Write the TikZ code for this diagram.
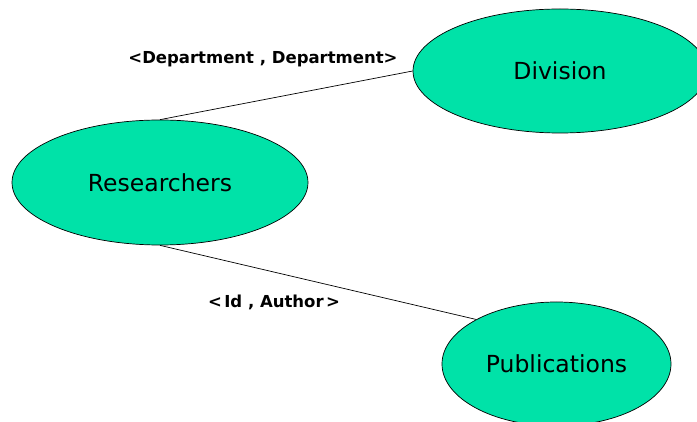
\documentclass[tikz,border=0pt]{standalone}
\usepackage{fontspec}
\setmainfont{DejaVu Sans}
\usetikzlibrary{shapes.geometric}
\definecolor{entfill}{RGB}{0,226,168}
\tikzset{
  entity/.style={ellipse, draw=black, line width=0.7pt, fill=entfill, inner sep=0pt,
    font=\fontsize{23.5}{28}\selectfont},
  rel/.style={draw=black, line width=0.7pt},
  lab/.style={font=\bfseries\fontsize{16.5}{19}\selectfont, inner sep=0pt}
}
\begin{document}
\begin{tikzpicture}[x=1pt, y=-1pt]
\useasboundingbox (0,0) rectangle (697,422);
\fill[white] (0,0) rectangle (697,422);
\node[entity, minimum width=296pt, minimum height=125pt] (res) at (160,182.5) {Researchers};
\node[entity, minimum width=294pt, minimum height=124pt] (div) at (560,71) {Division};
\node[entity, minimum width=229pt, minimum height=124pt] (pub) at (556.5,364) {Publications};
\draw[rel] (res.north) -- (div.west);
\draw[rel] (res.south) -- (pub.151);
\node[lab] (l1) at (263,59.5) {<Department , Department>};
\node[lab] (l2) at (274,302.5) {<\hspace{2.5pt}Id , Author\hspace{2.5pt}>};
\end{tikzpicture}
\end{document}
